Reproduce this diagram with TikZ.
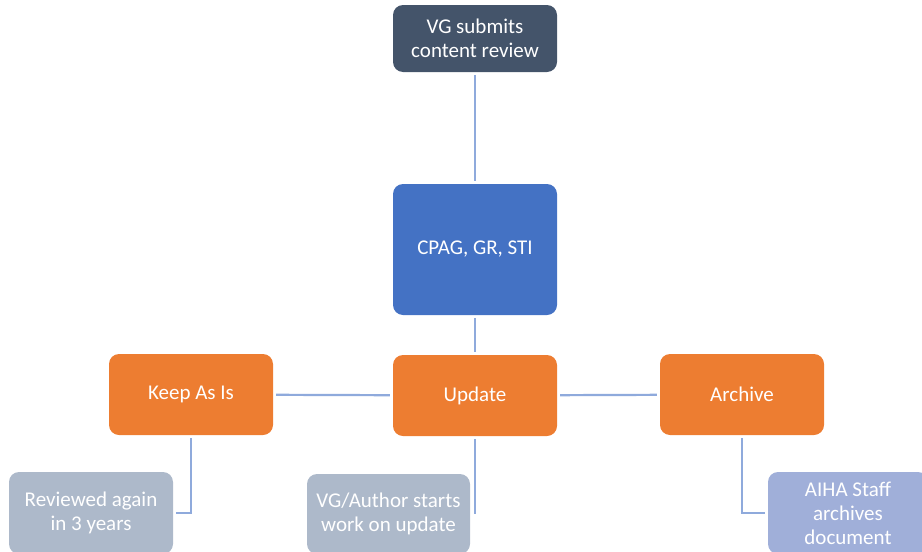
\documentclass[tikz,border=0pt]{standalone}
\usepackage{fontspec}
\setmainfont{Carlito}
\definecolor{slate}{HTML}{44546A}
\definecolor{blueb}{HTML}{4472C4}
\definecolor{orangeb}{HTML}{ED7D31}
\definecolor{greyb}{HTML}{ADB9CA}
\definecolor{lavb}{HTML}{A0AFD9}
\definecolor{linec}{HTML}{8FAADC}
\begin{document}
\begin{tikzpicture}[x=1pt,y=-1pt,
  box/.style={rectangle,rounded corners=10pt,text=white,align=center,inner sep=0pt,
    font=\fontsize{21}{24}\selectfont},
  conn/.style={draw=linec,line width=2.2pt,shorten <=3pt,shorten >=3pt}]
\useasboundingbox (0,0) rectangle (922,552);
\clip (0,0) rectangle (922,552);
\node[box,fill=slate,minimum width=164pt,minimum height=67pt] (top) at (475,38.5) {VG submits\\content review};
\node[box,fill=blueb,minimum width=164pt,minimum height=131pt] (cpag) at (475,249.5) {CPAG, GR, STI};
\node[box,fill=orangeb,minimum width=164pt,minimum height=81pt] (keep) at (191,394.5) {Keep As Is};
\node[box,fill=orangeb,minimum width=164pt,minimum height=81pt] (upd) at (475,395.5) {Update};
\node[box,fill=orangeb,minimum width=164pt,minimum height=81pt] (arch) at (742,394.5) {Archive};
\node[box,fill=greyb,minimum width=164pt,minimum height=82pt] (rev) at (91,513) {Reviewed again\\in 3 years};
\node[box,fill=greyb,minimum width=163pt,minimum height=80pt] (vga) at (388.5,514) {VG/Author starts\\work on update};
\node[box,fill=lavb,minimum width=160pt,minimum height=82pt] (aiha) at (848,513) {AIHA Staff\\archives\\document};
\coordinate (vgaend) at (475,514);
\draw[conn] (top) -- (cpag);
\draw[conn] (cpag) -- (upd);
\draw[conn] (keep) -- (upd);
\draw[conn] (upd) -- (arch);
\draw[conn] (keep.south) |- (rev.east);
\draw[conn,shorten >=0pt] (upd.south) -- (vgaend);
\draw[conn] (arch.south) |- (aiha.west);
\end{tikzpicture}
\end{document}
